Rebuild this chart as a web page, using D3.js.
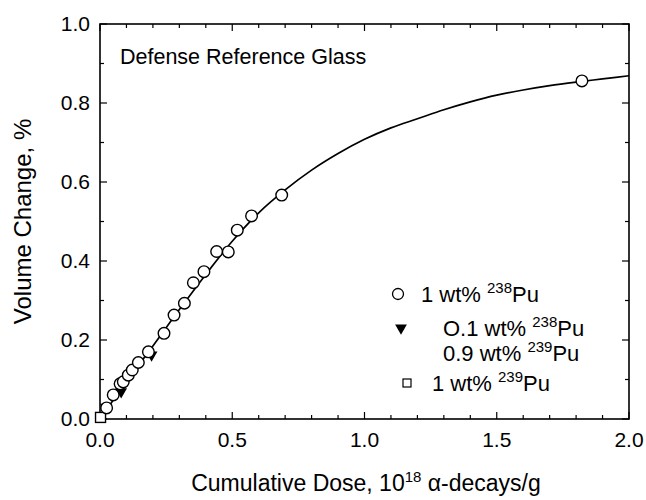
<!DOCTYPE html>
<html>
<head>
<meta charset="utf-8">
<script src="https://cdn.jsdelivr.net/npm/d3@7"></script>
<style>
    body { margin: 0; background: #fff; }
    svg { font-family: "Liberation Sans", Arial, sans-serif; }
    .tick-label { font-size: 21px; fill: #000; }
    .axis-title { font-size: 23px; fill: #000; }
    .legend-text { font-size: 22px; fill: #000; }
</style>
</head>
<body>
<svg id="chart" width="646" height="500"></svg>
<script>
// ===== Data =====
// 1 wt% 238Pu
const pu238Dose = [0.025, 0.050, 0.076, 0.088, 0.107, 0.122, 0.145, 0.183, 0.242, 0.280, 0.319, 0.353, 0.393, 0.441, 0.485, 0.519, 0.573, 0.687, 1.822];
const pu238Vol  = [0.028, 0.061, 0.089, 0.094, 0.111, 0.124, 0.143, 0.170, 0.217, 0.263, 0.293, 0.345, 0.373, 0.424, 0.423, 0.478, 0.514, 0.567, 0.856];

// 0.1 wt% 238Pu / 0.9 wt% 239Pu
const mixDose = [0.022, 0.080, 0.195];
const mixVol  = [0.030, 0.069, 0.162];

// 1 wt% 239Pu
const pu239Dose = [0.002];
const pu239Vol  = [0.004];

// fitted curve
const fitDose = [0, 0.1, 0.2, 0.3, 0.4, 0.5, 0.6, 0.7, 0.8, 0.9, 1.0, 1.1, 1.2, 1.3, 1.4, 1.5, 1.6, 1.7, 1.8, 1.9, 2.0];
const fitVol  = [0, 0.095, 0.185, 0.277, 0.366, 0.450, 0.522, 0.580, 0.630, 0.672, 0.708, 0.737, 0.760, 0.783, 0.803, 0.820, 0.833, 0.844, 0.853, 0.861, 0.869];

const xTicks = [0, 0.5, 1.0, 1.5, 2.0];
const yTicks = [0, 0.2, 0.4, 0.6, 0.8, 1.0];

// ===== Layout =====
const svg = d3.select('#chart');
const margin = { left: 100, top: 24, right: 17, bottom: 81 };
const W = 646, H = 500;

const x = d3.scaleLinear().domain([0, 2]).range([margin.left, W - margin.right]);
const y = d3.scaleLinear().domain([0, 1]).range([H - margin.bottom, margin.top]);

// ===== Frame & ticks =====
const g = svg.append('g');
const x0 = x(0), x1 = x(2), y0 = y(0), y1 = y(1);

g.append('rect')
    .attr('x', x0).attr('y', y1)
    .attr('width', x1 - x0).attr('height', y0 - y1)
    .attr('fill', 'none').attr('stroke', '#000').attr('stroke-width', 1.6);

const xMinor = d3.range(0, 21).map(i => i / 10);
const yMinor = d3.range(0, 11).map(i => i / 10);

xMinor.forEach(v => {
    const len = Math.abs(v * 2 - Math.round(v * 2)) < 1e-6 ? 7 : 4;
    g.append('line').attr('x1', x(v)).attr('x2', x(v)).attr('y1', y0).attr('y2', y0 - len)
        .attr('stroke', '#000').attr('stroke-width', 1.2);
    g.append('line').attr('x1', x(v)).attr('x2', x(v)).attr('y1', y1).attr('y2', y1 + len)
        .attr('stroke', '#000').attr('stroke-width', 1.2);
});

yMinor.forEach((v, i) => {
    const len = i % 2 === 0 ? 7 : 4;
    g.append('line').attr('x1', x0).attr('x2', x0 + len).attr('y1', y(v)).attr('y2', y(v))
        .attr('stroke', '#000').attr('stroke-width', 1.2);
    g.append('line').attr('x1', x1).attr('x2', x1 - len).attr('y1', y(v)).attr('y2', y(v))
        .attr('stroke', '#000').attr('stroke-width', 1.2);
});

// tick labels
g.selectAll('.xl').data(xTicks).enter().append('text')
    .attr('class', 'tick-label')
    .attr('x', d => x(d)).attr('y', y0 + 28)
    .attr('text-anchor', 'middle')
    .text(d => d.toFixed(1));

g.selectAll('.yl').data(yTicks).enter().append('text')
    .attr('class', 'tick-label')
    .attr('x', x0 - 10).attr('y', d => y(d) + 7)
    .attr('text-anchor', 'end')
    .text(d => d.toFixed(1));

// axis titles
const xt = g.append('text').attr('class', 'axis-title')
    .attr('x', 366).attr('y', 491).attr('text-anchor', 'middle');
xt.append('tspan').text('Cumulative Dose, 10');
xt.append('tspan').attr('dy', -9).style('font-size', '15px').text('18');
xt.append('tspan').attr('dy', 9).text(' \u03b1-decays/g');

g.append('text').attr('class', 'axis-title')
    .style('font-size', '24px')
    .attr('transform', `translate(31, ${(y0 + y1) / 2}) rotate(-90)`)
    .attr('text-anchor', 'middle')
    .text('Volume Change, %');

g.append('text')
    .attr('x', 120).attr('y', 64)
    .style('font-size', '21.5px')
    .text('Defense Reference Glass');

// ===== Fitted curve =====
const line = d3.line()
    .x(d => x(d[0])).y(d => y(d[1]))
    .curve(d3.curveMonotoneX);

g.append('path')
    .datum(d3.zip(fitDose, fitVol))
    .attr('d', line)
    .attr('fill', 'none').attr('stroke', '#000').attr('stroke-width', 1.7);

// ===== Markers =====
const tri = d3.symbol().type(d3.symbolTriangle).size(60);

g.selectAll('.sq').data(d3.zip(pu239Dose, pu239Vol)).enter().append('rect')
    .attr('x', d => x(d[0]) - 5).attr('y', d => y(d[1]) - 5)
    .attr('width', 10).attr('height', 10)
    .attr('fill', '#fff').attr('stroke', '#000').attr('stroke-width', 1.4);

g.selectAll('.tri').data(d3.zip(mixDose, mixVol)).enter().append('path')
    .attr('d', tri)
    .attr('transform', d => `translate(${x(d[0])},${y(d[1])}) rotate(180)`)
    .attr('fill', '#000');

g.selectAll('.circ').data(d3.zip(pu238Dose, pu238Vol)).enter().append('circle')
    .attr('cx', d => x(d[0])).attr('cy', d => y(d[1]))
    .attr('r', 5.8)
    .attr('fill', '#fff').attr('stroke', '#000').attr('stroke-width', 1.4);

// ===== Legend =====
const lg = g.append('g').attr('class', 'legend');

function legendText(xPos, yPos, prefix, iso) {
    const t = lg.append('text').attr('class', 'legend-text').attr('x', xPos).attr('y', yPos);
    t.append('tspan').text(prefix);
    t.append('tspan').attr('dy', -9).style('font-size', '15px').text(iso);
    t.append('tspan').attr('dy', 9).text('Pu');
}

lg.append('circle').attr('cx', 398).attr('cy', 294).attr('r', 5.5)
    .attr('fill', '#fff').attr('stroke', '#000').attr('stroke-width', 1.3);
legendText(421, 302, '1 wt% ', '238');

lg.append('path').attr('d', tri)
    .attr('transform', 'translate(401,328) rotate(180)')
    .attr('fill', '#000');
legendText(443, 336, 'O.1 wt% ', '238');
legendText(443, 361, '0.9 wt% ', '239');

lg.append('rect').attr('x', 403).attr('y', 379).attr('width', 8).attr('height', 8)
    .attr('fill', '#fff').attr('stroke', '#000').attr('stroke-width', 1.2);
legendText(432, 391, '1 wt% ', '239');
</script>
</body>
</html>
